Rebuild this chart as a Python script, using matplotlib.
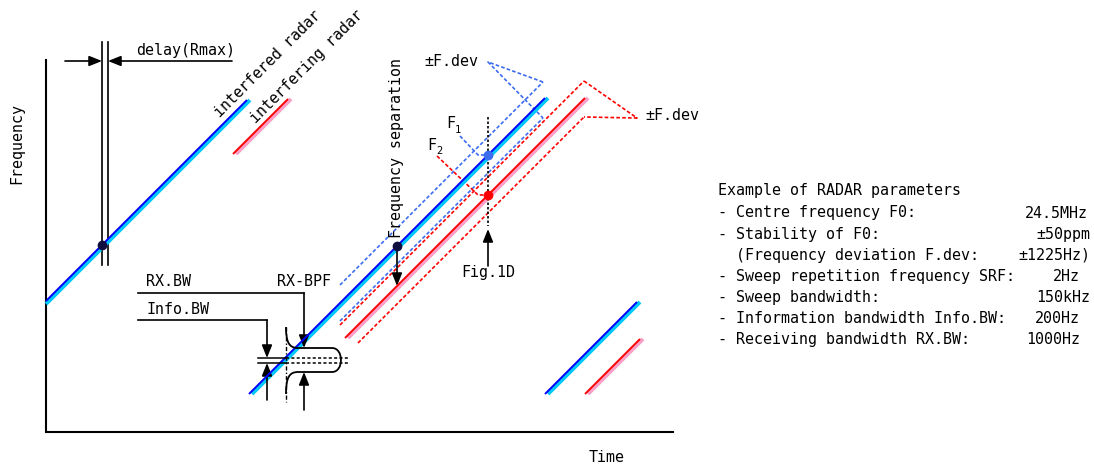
import matplotlib
matplotlib.use("Agg")
import matplotlib.pyplot as plt
from matplotlib.path import Path
from matplotlib.patches import PathPatch
import numpy as np

FONT = "DejaVu Sans Mono"
FS = 10.8

BLUE = "#0000ff"
CYAN = "#00c8f8"
RED = "#ff0000"
PINK = "#f8a0c8"
BLUE_DOT = "#3c6cf0"

# Canvas units are pixels: time runs right, frequency runs up (y grows downward).
AXIS_X0, AXIS_Y0 = 46, 432
AXIS_TOP, AXIS_RIGHT = 60, 673

# Linear FM sweeps (45-degree ramps)
SWEEP_LOW = 394                      # y of the lowest swept frequency
interfered_starts = [-47, 249, 545]  # start time of each interfered sweep
interfering_delay = 40               # interfering radar lags by this much
interfered_shown = [(46, 247), (249, 545), (545, 637)]
interfering_shown = [(233, 288), (345, 585), (585, 640)]

# +/- frequency deviation band around the second sweep pair
FDEV = 18
blue_band = [(340, 543), (340, 543)]     # upper, lower
red_band = [(340, 584), (358, 584)]      # upper, lower

# Marker times
t_delay = 102
delay_gap = 6
t_sep = 397
t_fig1d = 488

param_title = "Example of RADAR parameters"
param_labels = [
    "- Centre frequency F0:",
    "- Stability of F0:",
    "  (Frequency deviation F.dev:",
    "- Sweep repetition frequency SRF:",
    "- Sweep bandwidth:",
    "- Information bandwidth Info.BW:",
    "- Receiving bandwidth RX.BW:",
]
param_values = ["24.5MHz", "\u00b150ppm", "\u00b11225Hz)", "2Hz", "150kHz", "200Hz", "1000Hz"]
param_value_right = [1088, 1090, 1090, 1080, 1090, 1080, 1080]


def ramp(x, start):
    return SWEEP_LOW - (np.asarray(x, dtype=float) - start)


fig = plt.figure(figsize=(10.94, 4.68), dpi=100)
ax = fig.add_axes([0, 0, 1, 1])
ax.set_xlim(0, 1094)
ax.set_ylim(468, 0)
ax.axis("off")


def txt(x, y, s, **kw):
    kw.setdefault("fontsize", FS)
    kw.setdefault("family", FONT)
    kw.setdefault("va", "center")
    ax.text(x, y, s, **kw)


def arrow(tail, tip, lw=1.2):
    ax.annotate("", xy=tip, xytext=tail,
                arrowprops=dict(arrowstyle="-|>,head_length=0.55,head_width=0.22",
                                color="black", lw=lw, shrinkA=0, shrinkB=0,
                                mutation_scale=14))


# axes
ax.plot([AXIS_X0, AXIS_X0, AXIS_RIGHT], [AXIS_TOP, AXIS_Y0, AXIS_Y0],
        color="black", lw=1.5, solid_joinstyle="miter")

# sweeps
def draw_sweep(span, start, dark, light):
    a, b = span
    xs = np.array([a, b], dtype=float)
    xl = np.array([a if a == AXIS_X0 else a + 3, b + 3], dtype=float)
    ax.plot(xl, ramp(xl, start + 3), color=light, lw=2.8, solid_capstyle="butt", zorder=3)
    ax.plot(xs, ramp(xs, start), color=dark, lw=1.4, solid_capstyle="butt", zorder=4)


for span, s in zip(interfered_shown, interfered_starts):
    draw_sweep(span, s, BLUE, CYAN)
for span, s in zip(interfering_shown, interfered_starts):
    draw_sweep(span, s + interfering_delay, RED, PINK)

dot_style = dict(lw=1.2, linestyle=(0, (2.2, 1.3)))

# deviation bands
s_blue = interfered_starts[1]
s_red = interfered_starts[1] + interfering_delay
for (a, b), sign in zip(blue_band, (-1, 1)):
    xs = np.array([a, b])
    ax.plot(xs, ramp(xs, s_blue) + sign * FDEV, color=BLUE_DOT, zorder=2, **dot_style)
for (a, b), sign in zip(red_band, (-1, 1)):
    xs = np.array([a, b])
    ax.plot(xs, ramp(xs, s_red) + sign * FDEV, color=RED, zorder=2, **dot_style)

# deviation brackets
bx = blue_band[0][1]
ax.plot([bx, 488, bx], [ramp(bx, s_blue) - FDEV, 62, ramp(bx, s_blue) + FDEV],
        color=BLUE_DOT, **dot_style)
rx = red_band[0][1]
ax.plot([rx, 637, rx], [ramp(rx, s_red) - FDEV, 118, ramp(rx, s_red) + FDEV],
        color=RED, **dot_style)
txt(424, 62, "\u00b1F.dev")
txt(645, 116, "\u00b1F.dev")

# F1 / F2 points at Fig.1D time
yf1 = float(ramp(t_fig1d, s_blue))
yf2 = float(ramp(t_fig1d, s_red))
ax.plot([t_fig1d, t_fig1d], [117, 226], color="black", lw=1.2, linestyle=(0, (1.5, 1.2)), zorder=5)
ax.plot([460, 478, t_fig1d], [136, yf1, yf1], color=BLUE_DOT, **dot_style)
ax.plot([437, 478, t_fig1d], [156, yf2, yf2], color=RED, **dot_style)
ax.plot(t_fig1d, yf1, "o", color=BLUE_DOT, ms=6, zorder=6)
ax.plot(t_fig1d, yf2, "o", color=RED, ms=6, zorder=6)
txt(446, 124, "F")
txt(455, 130, "1", fontsize=7.5)
txt(427, 145, "F")
txt(436, 151, "2", fontsize=7.5)
arrow((t_fig1d, 266), (t_fig1d, 229))
txt(t_fig1d, 273, "Fig.1D", ha="center")

# frequency separation
ys1 = float(ramp(t_sep, s_blue))
ys2 = float(ramp(t_sep, s_red))
ax.plot(t_sep, ys1, "o", color="#101040", ms=6, zorder=6)
arrow((t_sep, ys1), (t_sep, ys2))
txt(396, 148, "Frequency separation", rotation=90, ha="center")

# delay (Rmax)
for x in (t_delay, t_delay + delay_gap):
    ax.plot([x, x], [42, 265], color="black", lw=1.2)
ax.plot(t_delay, float(ramp(t_delay, interfered_starts[0])), "o", color="#101040", ms=6, zorder=6)
arrow((65, 61), (t_delay, 61))
arrow((232, 61), (t_delay + delay_gap, 61))
txt(136, 51, "delay(Rmax)")

# radar labels
txt(268, 64, "interfered radar", rotation=45, ha="center", rotation_mode="anchor")
txt(307, 67, "interfering radar", rotation=45, ha="center", rotation_mode="anchor")

# RX band-pass filter response
verts = [(286, 327), (286, 342), (289, 348), (298, 348),
         (332, 348),
         (344, 348), (344, 372), (332, 372),
         (298, 372),
         (289, 372), (286, 378), (286, 394)]
codes = [Path.MOVETO, Path.CURVE4, Path.CURVE4, Path.CURVE4,
         Path.LINETO,
         Path.CURVE4, Path.CURVE4, Path.CURVE4,
         Path.LINETO,
         Path.CURVE4, Path.CURVE4, Path.CURVE4]
ax.add_patch(PathPatch(Path(verts, codes), fill=False, lw=1.3, edgecolor="black", zorder=5))
ax.plot([286, 286], [327, 402], color="black", lw=1.0, linestyle=(0, (3, 1.5, 1, 1.5)), zorder=5)
for y in (358, 363):
    ax.plot([258, 286], [y, y], color="black", lw=1.1, zorder=5)
    ax.plot([286, 348], [y, y], color="black", lw=1.1, linestyle=(0, (2, 1.5)), zorder=5)

ax.plot([138, 304], [293, 293], color="black", lw=1.2)
arrow((304, 293), (304, 348))
arrow((304, 410), (304, 372))
ax.plot([138, 267], [320, 320], color="black", lw=1.2)
arrow((267, 320), (267, 358))
arrow((267, 400), (267, 363))
txt(146, 282, "RX.BW")
txt(277, 282, "RX-BPF")
txt(147, 309, "Info.BW")

# axis labels
txt(17, 143, "Frequency", rotation=90, ha="center")
txt(607, 458, "Time", ha="center")

# parameter list
txt(718, 191, param_title)
for i, (lab, val, xr) in enumerate(zip(param_labels, param_values, param_value_right)):
    y = 213 + i * 21.1
    txt(718, y, lab)
    txt(xr, y, val, ha="right")

fig.savefig("out.png", dpi=100)
